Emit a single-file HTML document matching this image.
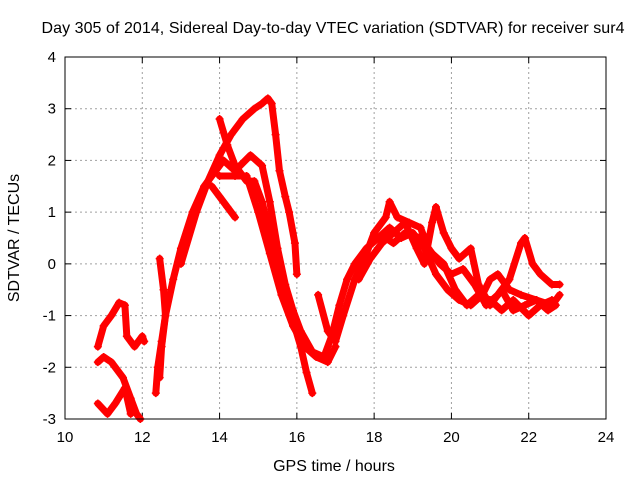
<!DOCTYPE html>
<html><head><meta charset="utf-8"><style>
body{margin:0;background:#fff}
svg text{font-family:"Liberation Sans",Arial,sans-serif;font-size:15px;fill:#000}
svg text.big{font-size:16px}
</style></head><body>
<svg id="chart" width="640" height="480">
<text class="big" x="333" y="33" text-anchor="middle" textLength="583">Day 305 of 2014, Sidereal Day-to-day VTEC variation (SDTVAR) for receiver sur4</text>
<text class="big" x="334" y="471" text-anchor="middle">GPS time / hours</text>
<text class="big" transform="translate(19,238) rotate(-90)" text-anchor="middle">SDTVAR / TECUs</text>
<g id="grid"></g><g id="ticks"></g><g id="series"></g>
<rect x="65" y="57" width="541" height="362" fill="none" stroke="#000" stroke-width="1"/>
</svg>
<script>
const xTicks=[10,12,14,16,18,20,22,24];
const yTicks=[-3,-2,-1,0,1,2,3,4];
const trackA=[[10.85,-1.6],[11.0,-1.2],[11.2,-1.0],[11.4,-0.75],[11.55,-0.8],[11.6,-1.4],[11.8,-1.6],[12.0,-1.4],[12.05,-1.5]];
const trackB=[[10.85,-1.9],[11.0,-1.8],[11.2,-1.9],[11.5,-2.2],[11.7,-2.6],[11.85,-2.9],[11.95,-3.0]];
const trackC=[[10.85,-2.7],[11.1,-2.9],[11.3,-2.7],[11.55,-2.4],[11.7,-2.9]];
const trackD=[[12.35,-2.5],[12.4,-2.0],[12.5,-1.5],[12.6,-1.0],[12.8,-0.3],[13.0,0.3],[13.3,1.0],[13.6,1.5],[13.9,1.8],[14.1,2.0],[14.4,1.8],[14.8,2.1],[15.1,1.9],[15.3,1.2],[15.5,0.3],[15.7,-0.4],[15.9,-0.9],[16.1,-1.3],[16.4,-1.7],[16.7,-1.8],[16.9,-1.4],[17.1,-0.8],[17.3,-0.3],[17.5,0.0],[17.8,0.3],[18.1,0.5],[18.4,0.7],[18.7,0.5],[19.0,0.6],[19.3,0.3],[19.6,-0.2],[19.9,-0.5],[20.2,-0.7],[20.5,-0.8],[20.8,-0.6],[21.0,-0.3],[21.2,-0.2],[21.5,-0.5],[21.8,-0.6],[22.2,-0.7],[22.6,-0.8],[22.8,-0.6]];
const trackE=[[12.45,0.1],[12.55,-0.5],[12.6,-1.0],[12.5,-1.6],[12.45,-2.2]];
const trackF=[[13.0,0.0],[13.4,1.0],[13.7,1.6],[14.0,2.1],[14.3,2.5],[14.6,2.8],[14.9,3.0],[15.1,3.1],[15.25,3.2],[15.35,3.1],[15.45,2.5],[15.55,1.8],[15.7,1.3],[15.8,1.0],[15.95,0.4],[16.0,-0.2]];
const trackG=[[14.0,2.8],[14.2,2.3],[14.4,1.9],[14.7,1.6],[14.9,1.6],[15.1,1.2],[15.3,0.6],[15.5,0.0],[15.7,-0.6],[15.9,-1.1],[16.1,-1.6],[16.25,-2.1],[16.4,-2.5]];
const trackH=[[14.0,1.7],[14.4,1.7],[14.7,1.7],[15.0,1.0],[15.3,0.2],[15.6,-0.6],[15.9,-1.2],[16.2,-1.6],[16.5,-1.8],[16.8,-1.9],[17.0,-1.6]];
const trackI=[[13.8,1.5],[14.0,1.3],[14.2,1.1],[14.4,0.9]];
const trackJ=[[16.55,-0.6],[16.8,-1.3],[17.0,-1.5],[17.2,-1.0],[17.5,-0.3],[17.8,0.2],[18.0,0.6],[18.3,0.9],[18.4,1.2],[18.6,0.9],[18.9,0.8],[19.2,0.7],[19.4,0.3],[19.7,0.0],[20.0,-0.2],[20.3,-0.1],[20.6,-0.4],[20.9,-0.8],[21.2,-0.6],[21.5,-0.3],[21.8,0.4],[21.9,0.5],[22.1,0.0],[22.3,-0.2],[22.6,-0.4],[22.8,-0.4]];
const trackK=[[17.6,-0.3],[17.9,0.1],[18.2,0.4],[18.5,0.6],[18.8,0.8],[19.1,0.3],[19.3,0.0],[19.5,0.8],[19.6,1.1],[19.8,0.6],[20.0,0.3],[20.2,0.1],[20.5,0.3],[20.7,-0.4],[21.0,-0.8],[21.3,-0.5],[21.6,-0.9],[21.9,-0.8],[22.2,-0.7],[22.5,-0.9],[22.7,-0.8]];
const trackL=[[18.3,0.5],[18.5,0.4],[18.8,0.6],[19.2,0.5],[19.5,0.2],[19.8,0.0],[20.1,-0.5],[20.4,-0.8],[20.7,-0.6],[21.0,-0.7],[21.3,-0.9],[21.6,-0.7],[22.0,-1.0],[22.3,-0.8],[22.6,-0.7]];
const tracks=[trackA,trackB,trackC,trackD,trackE,trackF,trackG,trackH,trackI,trackJ,trackK,trackL];

const NS='http://www.w3.org/2000/svg';
const L=65,R=606,T=57,B=419;
function xs(t){return L+(t-10)/(24-10)*(R-L);}
function ys(v){return T+(4-v)/(4-(-3))*(B-T);}
function mk(tag,attrs,parent){const e=document.createElementNS(NS,tag);for(const k in attrs)e.setAttribute(k,attrs[k]);parent.appendChild(e);return e;}
const grid=document.getElementById('grid'),ticks=document.getElementById('ticks'),ser=document.getElementById('series');
xTicks.forEach(t=>{const x=xs(t);
 if(t>10&&t<24){const g=mk('line',{x1:x,x2:x,y1:T,y2:B,stroke:'#a0a0a0','stroke-dasharray':'2,3'},grid);
 
 }
 mk('line',{x1:x,x2:x,y1:B,y2:B-6,stroke:'#000'},ticks);mk('line',{x1:x,x2:x,y1:T,y2:T+6,stroke:'#000'},ticks);
 const tx=mk('text',{x:x,y:B+23,'text-anchor':'middle'},ticks);tx.textContent=t;
 
 });
yTicks.forEach(v=>{const y=ys(v);
 if(v>-3&&v<4){const g=mk('line',{x1:L,x2:R,y1:y,y2:y,stroke:'#a0a0a0','stroke-dasharray':'2,3'},grid);
 
 }
 mk('line',{x1:L,x2:L+6,y1:y,y2:y,stroke:'#000'},ticks);mk('line',{x1:R,x2:R-6,y1:y,y2:y,stroke:'#000'},ticks);
 const tx=mk('text',{x:L-9,y:y+5,'text-anchor':'end'},ticks);tx.textContent=v;
 
 });
tracks.forEach((tr,i)=>{
 const g=mk('g',{},ser);
 
 
 mk('polyline',{points:tr.map(p=>xs(p[0])+','+ys(p[1])).join(' '),fill:'none',stroke:'#ff0000','stroke-width':7,'stroke-linejoin':'round','stroke-linecap':'round'},g);
 tr.forEach(p=>{const x=xs(p[0]),y=ys(p[1]);
  mk('path',{d:`M${x-4},${y}h8M${x},${y-4}v8`,stroke:'#ff0000','stroke-width':1.5},g);});
});
</script>
</body></html>
